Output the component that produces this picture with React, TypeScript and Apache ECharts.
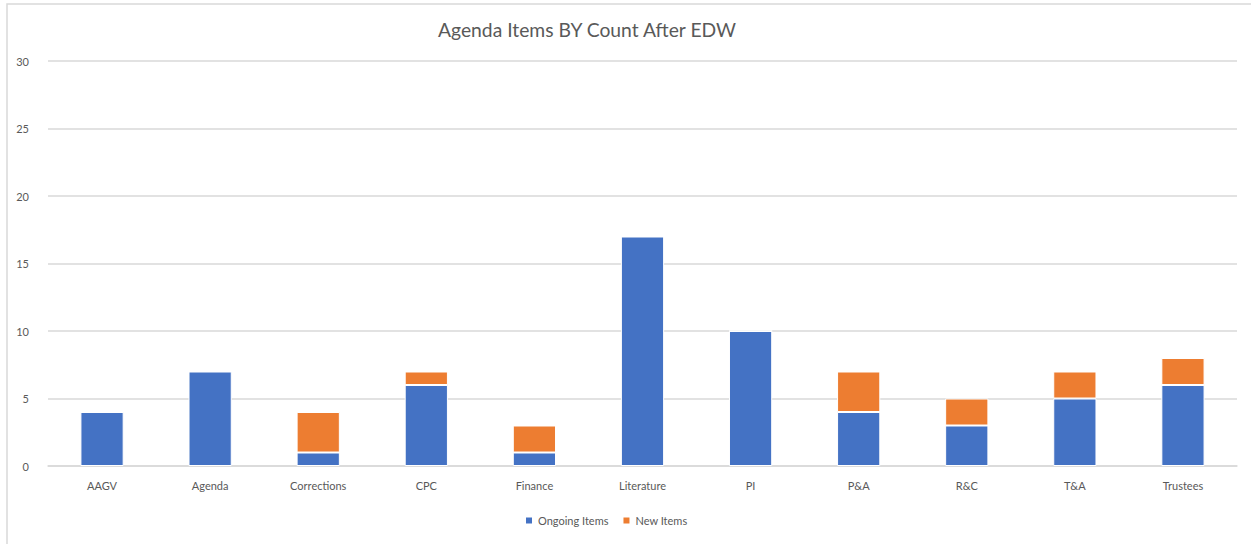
import React, { useEffect, useRef } from "react";
import * as echarts from "echarts";

const categories = ["AAGV", "Agenda", "Corrections", "CPC", "Finance", "Literature", "PI", "P&A", "R&C", "T&A", "Trustees"];
const ongoingItems = [4, 7, 1, 6, 1, 17, 10, 4, 3, 5, 6];
const newItems = [0, 0, 3, 1, 2, 0, 0, 3, 2, 2, 2];
const titleText = "Agenda Items BY Count After EDW";

const FONT = "Lato, 'Open Sans', sans-serif";

export default function App() {
  const ref = useRef<HTMLDivElement>(null);
  useEffect(() => {
    if (!ref.current) return;
    const chart = echarts.init(ref.current, undefined, { renderer: "svg" });
    chart.setOption({
      animation: false,
      backgroundColor: "#ffffff",
      title: {
        text: titleText,
        left: 433,
        top: 15,
        textStyle: { fontFamily: FONT, fontSize: 19.3, fontWeight: "normal", color: "#595959" },
      },
      graphic: [
        {
          type: "rect",
          shape: { x: 7, y: 4, width: 1400, height: 700 },
          style: { fill: "none", stroke: "#d9d9d9", lineWidth: 1.5 },
          silent: true,
        },
      ],
      legend: {
        left: 519,
        top: 510,
        itemWidth: 8,
        itemHeight: 8,
        itemGap: 13,
        icon: "rect",
        textStyle: { fontFamily: FONT, fontSize: 11, color: "#595959" },
        data: ["Ongoing Items", "New Items"],
      },
      grid: { left: 48, right: 14, top: 61, bottom: 78 },
      xAxis: {
        type: "category",
        data: categories,
        axisLine: { show: true, lineStyle: { color: "#d9d9d9", width: 1.5 } },
        axisTick: { show: false },
        axisLabel: { margin: 14, fontFamily: FONT, fontSize: 11, color: "#595959" },
      },
      yAxis: {
        type: "value",
        min: 0,
        max: 30,
        interval: 5,
        axisLine: { show: false },
        axisTick: { show: false },
        splitLine: { lineStyle: { color: "#d9d9d9", width: 1.5 } },
        axisLabel: {
          margin: 19,
          fontFamily: FONT,
          fontSize: 11,
          color: "#595959",
          verticalAlign: "middle",
          padding: [0, 0, 5, 0],
        },
      },
      series: [
        {
          name: "Ongoing Items",
          type: "bar",
          stack: "total",
          barWidth: "40%",
          data: ongoingItems,
          itemStyle: { color: "#4472C4", borderColor: "#ffffff", borderWidth: 1 },
        },
        {
          name: "New Items",
          type: "bar",
          stack: "total",
          barWidth: "40%",
          data: newItems,
          itemStyle: { color: "#ED7D31", borderColor: "#ffffff", borderWidth: 1 },
        },
      ],
    });
    return () => chart.dispose();
  }, []);
  return <div ref={ref} style={{ position: "fixed", left: 0, top: 0, width: 1251, height: 544 }} />;
}
